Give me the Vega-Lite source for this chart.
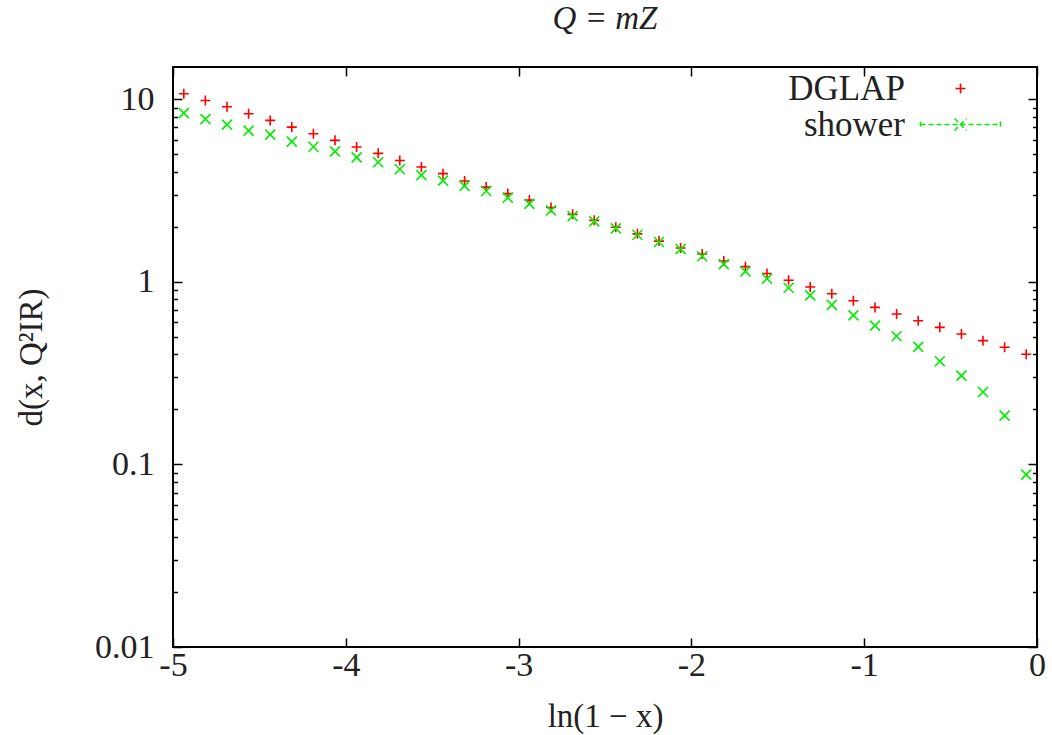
{
  "$schema": "https://vega.github.io/schema/vega-lite/v6.json",
  "width": 864,
  "height": 580,
  "autosize": {"type": "none"},
  "padding": {"left": 173, "top": 67, "right": 15, "bottom": 88},
  "background": "white",
  "title": {"text": "Q = mZ", "font": "Liberation Serif", "fontStyle": "italic", "fontWeight": "normal", "fontSize": 33, "offset": 30, "anchor": "middle", "color": "#222"},
  "config": {
    "view": {"stroke": "black", "strokeWidth": 2},
    "font": "Liberation Serif",
    "axis": {"grid": false, "domain": false, "tickColor": "black", "tickWidth": 1.5, "labelColor": "#222", "titleColor": "#222", "labelFont": "Liberation Serif", "titleFont": "Liberation Serif", "labelFontSize": 34, "titleFontSize": 33, "titleFontWeight": "normal"},
    "legend": {"orient": "none", "padding": 0, "rowPadding": 0, "labelAlign": "right", "labelOffset": -73, "labelFontSize": 35, "labelFont": "Liberation Serif", "labelColor": "#222", "symbolStrokeWidth": 1.6, "symbolSize": 100, "labelLimit": 0}
  },
  "data": {"values": [
    {"t": -4.9375, "d": 10.7, "s": "DGLAP"}, {"t": -4.8125, "d": 9.84, "s": "DGLAP"}, {"t": -4.6875, "d": 9.08, "s": "DGLAP"}, {"t": -4.5625, "d": 8.32, "s": "DGLAP"},
    {"t": -4.4375, "d": 7.65, "s": "DGLAP"}, {"t": -4.3125, "d": 7.03, "s": "DGLAP"}, {"t": -4.1875, "d": 6.47, "s": "DGLAP"}, {"t": -4.0625, "d": 5.95, "s": "DGLAP"},
    {"t": -3.9375, "d": 5.47, "s": "DGLAP"}, {"t": -3.8125, "d": 5.05, "s": "DGLAP"}, {"t": -3.6875, "d": 4.61, "s": "DGLAP"}, {"t": -3.5625, "d": 4.25, "s": "DGLAP"},
    {"t": -3.4375, "d": 3.91, "s": "DGLAP"}, {"t": -3.3125, "d": 3.56, "s": "DGLAP"}, {"t": -3.1875, "d": 3.30, "s": "DGLAP"}, {"t": -3.0625, "d": 3.04, "s": "DGLAP"},
    {"t": -2.9375, "d": 2.80, "s": "DGLAP"}, {"t": -2.8125, "d": 2.55, "s": "DGLAP"}, {"t": -2.6875, "d": 2.34, "s": "DGLAP"}, {"t": -2.5625, "d": 2.17, "s": "DGLAP"},
    {"t": -2.4375, "d": 1.99, "s": "DGLAP"}, {"t": -2.3125, "d": 1.83, "s": "DGLAP"}, {"t": -2.1875, "d": 1.67, "s": "DGLAP"}, {"t": -2.0625, "d": 1.53, "s": "DGLAP"},
    {"t": -1.9375, "d": 1.42, "s": "DGLAP"}, {"t": -1.8125, "d": 1.30, "s": "DGLAP"}, {"t": -1.6875, "d": 1.21, "s": "DGLAP"}, {"t": -1.5625, "d": 1.11, "s": "DGLAP"},
    {"t": -1.4375, "d": 1.02, "s": "DGLAP"}, {"t": -1.3125, "d": 0.936, "s": "DGLAP"}, {"t": -1.1875, "d": 0.860, "s": "DGLAP"}, {"t": -1.0625, "d": 0.787, "s": "DGLAP"},
    {"t": -0.9375, "d": 0.724, "s": "DGLAP"}, {"t": -0.8125, "d": 0.666, "s": "DGLAP"}, {"t": -0.6875, "d": 0.612, "s": "DGLAP"}, {"t": -0.5625, "d": 0.563, "s": "DGLAP"},
    {"t": -0.4375, "d": 0.518, "s": "DGLAP"}, {"t": -0.3125, "d": 0.476, "s": "DGLAP"}, {"t": -0.1875, "d": 0.438, "s": "DGLAP"}, {"t": -0.0625, "d": 0.401, "s": "DGLAP"},
    {"t": -4.9375, "d": 8.38, "s": "shower"}, {"t": -4.8125, "d": 7.78, "s": "shower"}, {"t": -4.6875, "d": 7.25, "s": "shower"}, {"t": -4.5625, "d": 6.72, "s": "shower"},
    {"t": -4.4375, "d": 6.39, "s": "shower"}, {"t": -4.3125, "d": 5.85, "s": "shower"}, {"t": -4.1875, "d": 5.49, "s": "shower"}, {"t": -4.0625, "d": 5.18, "s": "shower"},
    {"t": -3.9375, "d": 4.80, "s": "shower"}, {"t": -3.8125, "d": 4.51, "s": "shower"}, {"t": -3.6875, "d": 4.13, "s": "shower"}, {"t": -3.5625, "d": 3.84, "s": "shower"},
    {"t": -3.4375, "d": 3.58, "s": "shower"}, {"t": -3.3125, "d": 3.35, "s": "shower"}, {"t": -3.1875, "d": 3.14, "s": "shower"}, {"t": -3.0625, "d": 2.89, "s": "shower"},
    {"t": -2.9375, "d": 2.67, "s": "shower"}, {"t": -2.8125, "d": 2.46, "s": "shower"}, {"t": -2.6875, "d": 2.29, "s": "shower"}, {"t": -2.5625, "d": 2.14, "s": "shower"},
    {"t": -2.4375, "d": 1.96, "s": "shower"}, {"t": -2.3125, "d": 1.81, "s": "shower"}, {"t": -2.1875, "d": 1.65, "s": "shower"}, {"t": -2.0625, "d": 1.51, "s": "shower"},
    {"t": -1.9375, "d": 1.38, "s": "shower"}, {"t": -1.8125, "d": 1.25, "s": "shower"}, {"t": -1.6875, "d": 1.14, "s": "shower"}, {"t": -1.5625, "d": 1.04, "s": "shower"},
    {"t": -1.4375, "d": 0.927, "s": "shower"}, {"t": -1.3125, "d": 0.843, "s": "shower"}, {"t": -1.1875, "d": 0.747, "s": "shower"}, {"t": -1.0625, "d": 0.655, "s": "shower"},
    {"t": -0.9375, "d": 0.575, "s": "shower"}, {"t": -0.8125, "d": 0.503, "s": "shower"}, {"t": -0.6875, "d": 0.440, "s": "shower"}, {"t": -0.5625, "d": 0.367, "s": "shower"},
    {"t": -0.4375, "d": 0.306, "s": "shower"}, {"t": -0.3125, "d": 0.249, "s": "shower"}, {"t": -0.1875, "d": 0.185, "s": "shower"}, {"t": -0.0625, "d": 0.0879, "s": "shower"}
  ]},
  "resolve": {"axis": {"x": "independent", "y": "independent"}},
  "layer": [
    {
      "transform": [{"filter": "datum.s === 'DGLAP'"}],
      "mark": {"type": "point", "filled": false, "strokeWidth": 1.6, "size": 100, "opacity": 1, "shape": "M-1,0H1M0,-1V1"},
      "encoding": {
        "x": {"field": "t", "type": "quantitative", "scale": {"domain": [-5, 0], "nice": false, "zero": false},
          "axis": {"orient": "bottom", "values": [-5, -4, -3, -2, -1, 0], "format": "d", "labelExpr": "replace(datum.label, '−', '-')", "tickSize": -9, "labelPadding": 10, "labelFlush": false, "labelFont": "Liberation Serif", "titleFont": "Liberation Serif", "title": "ln(1 − x)", "titlePadding": 18}},
        "y": {"field": "d", "type": "quantitative", "scale": {"type": "log", "domain": [0.01, 15], "nice": false},
          "axis": {"orient": "left",
            "values": [0.01, 0.02, 0.03, 0.04, 0.05, 0.06, 0.07, 0.08, 0.09, 0.1, 0.2, 0.3, 0.4, 0.5, 0.6, 0.7, 0.8, 0.9, 1, 2, 3, 4, 5, 6, 7, 8, 9, 10],
            "format": ".2~f",
            "labelExpr": "(datum.value == 0.01 || datum.value == 0.1 || datum.value == 1 || datum.value == 10) ? datum.label : ''",
            "tickSize": {"condition": {"test": "datum.value == 0.01 || datum.value == 0.1 || datum.value == 1 || datum.value == 10", "value": -9}, "value": -4.5},
            "labelPadding": 28, "labelBaseline": "middle", "labelFont": "Liberation Serif", "titleFont": "Liberation Serif",
            "title": "d(x, Q²IR)", "titlePadding": 46}},
        "color": {"field": "s", "type": "nominal", "title": null,
          "scale": {"domain": ["DGLAP"], "range": ["#ff0000"]},
          "legend": {"legendX": 770, "legendY": 4, "symbolType": "M-1,0H1M0,-1V1"}}
      }
    },
    {
      "transform": [{"filter": "datum.s === 'shower'"}],
      "mark": {"type": "point", "filled": false, "strokeWidth": 1.6, "size": 100, "opacity": 1, "shape": "M-1,-1L1,1M-1,1L1,-1"},
      "encoding": {
        "x": {"field": "t", "type": "quantitative", "axis": null},
        "y": {"field": "d", "type": "quantitative", "axis": null},
        "stroke": {"field": "s", "type": "nominal", "title": null,
          "scale": {"domain": ["shower"], "range": ["#00ee00"]},
          "legend": {"legendX": 770, "legendY": 40, "symbolDash": [5, 3], "symbolType": "M-8,0H8M-8,-0.6V0.6M8,-0.6V0.6M-1.2,-1.2L1.2,1.2M-1.2,1.2L1.2,-1.2"}}
      }
    },
    {
      "mark": {"type": "point", "opacity": 0},
      "encoding": {
        "x": {"field": "t", "type": "quantitative",
          "axis": {"orient": "top", "values": [-5, -4, -3, -2, -1, 0], "labels": false, "title": null, "tickSize": -9}},
        "y": {"field": "d", "type": "quantitative",
          "axis": {"orient": "right", "labels": false, "title": null,
            "values": [0.01, 0.02, 0.03, 0.04, 0.05, 0.06, 0.07, 0.08, 0.09, 0.1, 0.2, 0.3, 0.4, 0.5, 0.6, 0.7, 0.8, 0.9, 1, 2, 3, 4, 5, 6, 7, 8, 9, 10],
            "tickSize": {"condition": {"test": "datum.value == 0.01 || datum.value == 0.1 || datum.value == 1 || datum.value == 10", "value": -9}, "value": -4.5}}}
      }
    }
  ]
}
